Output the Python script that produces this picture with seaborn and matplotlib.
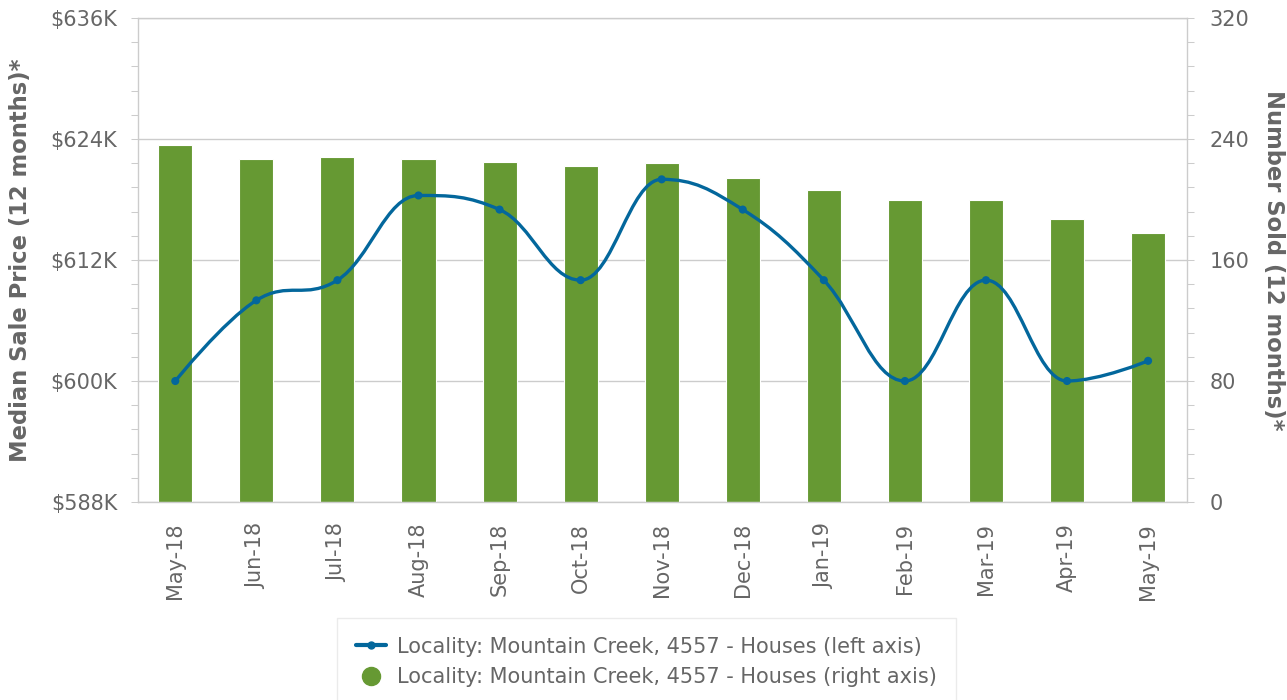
import numpy as np
import seaborn as sns

import matplotlib

matplotlib.use("Agg")
import matplotlib.pyplot as plt
from matplotlib.path import Path
from matplotlib.patches import PathPatch
from matplotlib.lines import Line2D
from matplotlib.ticker import MultipleLocator, FuncFormatter

sns.set_style("white")
plt.rcParams["font.family"] = ["DejaVu Sans"]

# data
months = ["May-18", "Jun-18", "Jul-18", "Aug-18", "Sep-18", "Oct-18", "Nov-18",
          "Dec-18", "Jan-19", "Feb-19", "Mar-19", "Apr-19", "May-19"]
median_price = [600000, 608000, 610000, 618400, 617000, 610000, 620000,
                617000, 610000, 600000, 610000, 600000, 602000]
number_sold = [236, 227, 228, 227, 225, 222, 224, 214, 206, 200, 200, 187, 178]

series_name = "Locality: Mountain Creek, 4557 - Houses"

LINE_COLOR = "#03679c"
BAR_COLOR = "#669933"
GRID_COLOR = "#cccccc"
TEXT_COLOR = "#666666"


# highcharts-like spline (cubic bezier, smoothing 1.5)
def spline_path(xs, ys, smoothing=1.5):
    d = smoothing + 1
    verts = [(xs[0], ys[0])]
    codes = [Path.MOVETO]
    right_prev = (xs[0], ys[0])
    n = len(xs)
    for i in range(1, n):
        x, y = xs[i], ys[i]
        lx, ly = x, y
        nxt = None
        if i < n - 1:
            px, py = xs[i - 1], ys[i - 1]
            nx, ny = xs[i + 1], ys[i + 1]
            lx = (smoothing * x + px) / d
            ly = (smoothing * y + py) / d
            rx = (smoothing * x + nx) / d
            ry = (smoothing * y + ny) / d
            if rx != lx:
                corr = ((ry - ly) * (rx - x)) / (rx - lx) + y - ry
                ly += corr
                ry += corr
            if ly > py and ly > y:
                ly = max(py, y)
                ry = 2 * y - ly
            elif ly < py and ly < y:
                ly = min(py, y)
                ry = 2 * y - ly
            if ry > ny and ry > y:
                ry = max(ny, y)
                ly = 2 * y - ry
            elif ry < ny and ry < y:
                ry = min(ny, y)
                ly = 2 * y - ry
            nxt = (rx, ry)
        verts += [right_prev, (lx, ly), (x, y)]
        codes += [Path.CURVE4] * 3
        right_prev = nxt if nxt is not None else (x, y)
    return Path(verts, codes)


fig = plt.figure(figsize=(12.87, 7.0), dpi=100)
ax = fig.add_axes([138 / 1287, 1 - 502 / 700, 1049 / 1287, 484 / 700])
ax2 = ax.twinx()

# bars on the right axis
sns.barplot(x=months, y=number_sold, ax=ax2, color=BAR_COLOR, saturation=1,
            width=0.42, edgecolor="white", linewidth=0.8)

# spline + markers on the left axis
pos = np.arange(len(months))
ax.add_patch(PathPatch(spline_path(pos, median_price), facecolor="none",
                       edgecolor=LINE_COLOR, linewidth=2.4, zorder=3,
                       capstyle="round", joinstyle="round"))
sns.scatterplot(x=pos, y=median_price, ax=ax, color=LINE_COLOR, s=34,
                edgecolor="none", zorder=4, legend=False)

ax.set_zorder(ax2.get_zorder() + 1)
ax.patch.set_visible(False)

ax.set_xlim(-0.46, 12.48)
ax2.set_xlim(-0.46, 12.48)
ax.set_ylim(588000, 636000)
ax2.set_ylim(0, 320)

# left axis
ax.yaxis.set_major_locator(MultipleLocator(12000))
ax.yaxis.set_minor_locator(MultipleLocator(2400))
ax.yaxis.set_major_formatter(FuncFormatter(lambda v, p: f"${v / 1000:.0f}K"))
ax.tick_params(axis="y", which="both", length=5, width=0.75, color=GRID_COLOR,
               labelsize=15, labelcolor=TEXT_COLOR, pad=10)
ax.set_ylabel("Median Sale Price (12 months)*", fontsize=16.3, fontweight="bold",
              color=TEXT_COLOR, labelpad=13.5)

# right axis
ax2.yaxis.set_major_locator(MultipleLocator(80))
ax2.yaxis.set_minor_locator(MultipleLocator(16))
ax2.tick_params(axis="y", which="both", length=5, width=0.75, color=GRID_COLOR,
                labelsize=15, labelcolor=TEXT_COLOR, pad=11)
ax2.set_ylabel("Number Sold (12 months)*", fontsize=16.3, fontweight="bold",
               color=TEXT_COLOR, rotation=270, va="bottom", labelpad=9)
ax2.yaxis.grid(True, color=GRID_COLOR, linewidth=1)
ax2.set_axisbelow(True)

# x axis
ax.set_xticks(pos, months, rotation=90)
ax.tick_params(axis="x", length=12, width=0.75, color="#ccd6eb",
               labelsize=15, labelcolor=TEXT_COLOR, pad=3)
ax.set_xlabel("")
ax2.set_xlabel("")

for side, sp in ax.spines.items():
    sp.set_color(GRID_COLOR)
    sp.set_linewidth(1)
ax.spines["right"].set_visible(False)
for side, sp in ax2.spines.items():
    sp.set_visible(side == "right")
    sp.set_color(GRID_COLOR)
    sp.set_linewidth(1)

handles = [
    Line2D([], [], color=LINE_COLOR, linewidth=3, marker="o", markersize=5),
    Line2D([], [], color=BAR_COLOR, linestyle="none", marker="o", markersize=13),
]
labels = [f"{series_name} (left axis)", f"{series_name} (right axis)"]
leg = fig.legend(handles, labels, loc="upper left",
                 bbox_to_anchor=(337 / 1287, 1 - 618 / 700), fontsize=15,
                 frameon=True, fancybox=False, edgecolor="#e6e6e6",
                 handlelength=1.45, handletextpad=0.55, borderpad=0.9,
                 labelspacing=0.5, borderaxespad=0)
for t in leg.get_texts():
    t.set_color(TEXT_COLOR)

fig.savefig("out.png", dpi=100, facecolor="white")
